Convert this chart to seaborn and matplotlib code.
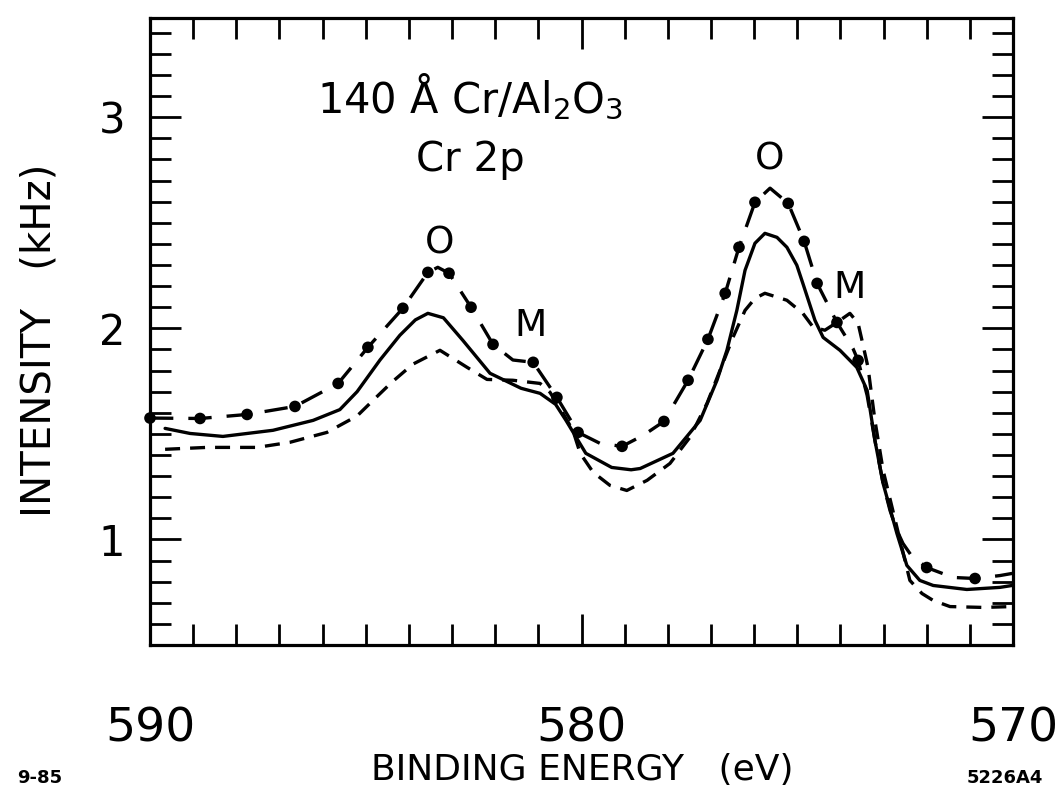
import numpy as np
import matplotlib
matplotlib.use("Agg")
import matplotlib.pyplot as plt
import seaborn as sns

# binding energy (eV) / intensity (kHz)
be_dotdash = [590.00, 588.84, 587.75, 586.64, 585.64, 584.95, 584.14, 583.56, 583.33, 583.07,
              582.56, 582.05, 581.59, 581.12, 580.57, 580.08, 579.57, 579.06, 578.57, 578.09,
              577.53, 577.07, 576.67, 576.35, 575.98, 575.63, 575.21, 574.84, 574.54, 574.08,
              573.71, 573.59, 573.38, 573.20, 573.01, 572.85, 572.69, 572.55, 572.34, 572.00,
              571.39, 570.88, 570.30, 570.02]
int_dotdash = [1.575, 1.573, 1.592, 1.630, 1.739, 1.910, 2.095, 2.265, 2.289, 2.261,
               2.100, 1.924, 1.850, 1.839, 1.673, 1.507, 1.455, 1.441, 1.493, 1.559,
               1.754, 1.948, 2.166, 2.384, 2.597, 2.664, 2.592, 2.412, 2.213, 2.028,
               1.905, 1.848, 1.682, 1.469, 1.265, 1.137, 1.043, 0.981, 0.919, 0.867,
               0.820, 0.815, 0.829, 0.839]

be_dots = [590.00, 588.84, 587.75, 586.64, 585.64, 584.95, 584.14, 583.56, 583.07, 582.56,
           582.05, 581.12, 580.57, 580.08, 579.06, 578.09, 577.53, 577.07, 576.67, 576.35,
           575.98, 575.21, 574.84, 574.54, 574.08, 573.59, 572.00, 570.88]
int_dots = [1.575, 1.573, 1.592, 1.630, 1.739, 1.910, 2.095, 2.265, 2.261, 2.100,
            1.924, 1.839, 1.673, 1.507, 1.441, 1.559, 1.754, 1.948, 2.166, 2.384,
            2.597, 2.592, 2.412, 2.213, 2.028, 1.848, 0.867, 0.815]

be_solid = [589.65, 589.07, 588.31, 587.15, 586.22, 585.60, 585.20, 584.67, 584.21, 583.85,
            583.56, 583.20, 582.75, 582.12, 581.40, 580.96, 580.60, 580.36, 579.90, 579.30,
            578.85, 578.64, 577.88, 577.25, 576.86, 576.63, 576.40, 576.21, 575.98, 575.75,
            575.47, 575.24, 575.01, 574.87, 574.59, 574.40, 574.01, 573.62, 573.38, 573.20,
            573.01, 572.69, 572.46, 572.16, 571.85, 571.07, 570.30, 570.02]
int_solid = [1.526, 1.502, 1.488, 1.517, 1.564, 1.615, 1.700, 1.850, 1.967, 2.040,
             2.071, 2.050, 1.943, 1.787, 1.716, 1.692, 1.640, 1.564, 1.408, 1.341,
             1.330, 1.336, 1.408, 1.564, 1.754, 1.896, 2.085, 2.275, 2.403, 2.450,
             2.431, 2.384, 2.299, 2.213, 2.038, 1.957, 1.896, 1.815, 1.706, 1.469,
             1.265, 1.028, 0.877, 0.806, 0.782, 0.763, 0.773, 0.782]

be_dash = [589.65, 588.68, 587.52, 586.76, 585.90, 585.20, 584.83, 584.40, 583.91, 583.28,
           582.65, 582.19, 581.59, 580.96, 580.73, 580.43, 580.20, 580.03, 579.73, 579.34,
           578.95, 578.48, 577.95, 577.49, 577.09, 576.79, 576.49, 576.21, 575.98, 575.75,
           575.24, 574.87, 574.63, 574.36, 574.08, 573.78, 573.59, 573.50, 573.36, 573.20,
           573.01, 572.69, 572.39, 572.11, 571.85, 571.46, 570.70, 570.02]
int_dash = [1.427, 1.436, 1.436, 1.460, 1.507, 1.585, 1.659, 1.744, 1.830, 1.896,
            1.815, 1.758, 1.754, 1.739, 1.697, 1.597, 1.517, 1.408, 1.318, 1.256,
            1.232, 1.280, 1.360, 1.483, 1.645, 1.801, 1.957, 2.085, 2.142, 2.166,
            2.133, 2.071, 2.005, 1.991, 2.028, 2.071, 2.024, 1.943, 1.815, 1.564,
            1.327, 1.057, 0.806, 0.744, 0.711, 0.682, 0.678, 0.682]

x_major = [590, 580, 570]
y_major = [1, 2, 3]

sns.set_style("ticks")
plt.rcParams['font.family'] = ['DejaVu Sans']
plt.rcParams['mathtext.default'] = 'regular'
plt.rcParams['text.color'] = 'black'
plt.rcParams['xtick.labelcolor'] = 'black'
plt.rcParams['ytick.labelcolor'] = 'black'

fig = plt.figure(figsize=(10.61, 7.95), dpi=100)
ax = fig.add_axes([150 / 1061, 150 / 795, 863 / 1061, 627 / 795])

lw = 2.4
sns.lineplot(x=be_solid, y=int_solid, ax=ax, color='black', lw=lw, sort=False, estimator=None)
sns.lineplot(x=be_dash, y=int_dash, ax=ax, color='black', lw=lw, sort=False, estimator=None,
             linestyle=(0, (4.5, 3)))
sns.lineplot(x=be_dotdash, y=int_dotdash, ax=ax, color='black', lw=lw, sort=False, estimator=None,
             linestyle=(0, (7, 4.5)))
sns.scatterplot(x=be_dots, y=int_dots, ax=ax, color='black', s=70, edgecolor='none', zorder=5,
                clip_on=False)

ax.set_xlim(590, 570)
ax.set_ylim(0.5, 3.47)
ax.set_xticks(x_major)
ax.set_xticks(np.arange(570, 591, 1), minor=True)
ax.set_yticks(y_major)
ax.set_yticks(np.arange(0.6, 3.45, 0.1), minor=True)
ax.set_xticklabels([str(v) for v in x_major])
ax.set_yticklabels([str(v) for v in y_major])

ax.tick_params(which='both', direction='in', top=True, right=True, width=2, color='black')
ax.tick_params(which='major', length=22)
ax.tick_params(which='minor', length=15)
ax.tick_params(axis='x', which='major', labelsize=34, pad=44)
ax.tick_params(axis='y', which='major', labelsize=30, pad=18)
for sp in ax.spines.values():
    sp.set_linewidth(2.3)
    sp.set_color('black')

fig.text(582 / 1061, 1 - 770 / 795, 'BINDING ENERGY   (eV)', fontsize=26,
         ha='center', va='center')
fig.text(40 / 1061, 1 - 340 / 795, 'INTENSITY   (kHz)', fontsize=29, rotation=90,
         ha='center', va='center')

ax.text(582.58, 3.095, '140 Å Cr/Al$_2$O$_3$', fontsize=30, ha='center', va='center')
ax.text(582.58, 2.796, 'Cr 2p', fontsize=29, ha='center', va='center')
ax.text(583.28, 2.40, 'O', fontsize=27, ha='center', va='center')
ax.text(575.63, 2.80, 'O', fontsize=27, ha='center', va='center')
ax.text(581.19, 2.01, 'M', fontsize=27, ha='center', va='center')
ax.text(573.78, 2.19, 'M', fontsize=27, ha='center', va='center')

fig.text(40 / 1061, 1 - 778 / 795, '9-85', fontsize=13, fontweight='bold', ha='center', va='center')
fig.text(1005 / 1061, 1 - 778 / 795, '5226A4', fontsize=13, fontweight='bold', ha='center', va='center')

fig.savefig('out.png', dpi=100)
